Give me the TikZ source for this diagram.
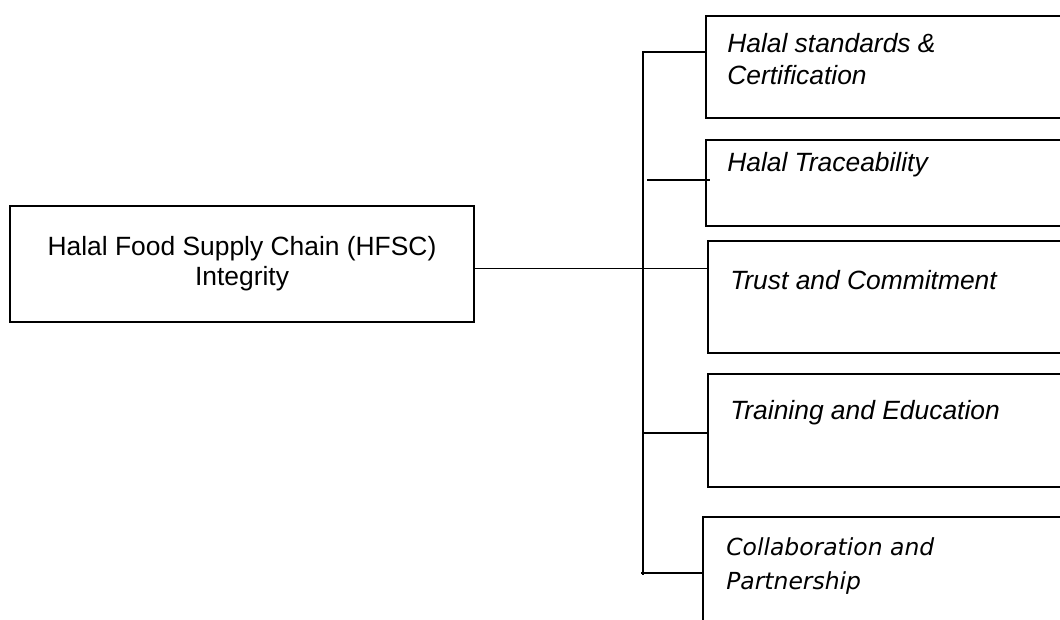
\documentclass[tikz,border=0pt]{standalone}
\usepackage{fontspec}
\setmainfont{Liberation Sans}
\newfontfamily\collabfont{DejaVu Sans}
\usetikzlibrary{positioning,calc}
\tikzset{
  box/.style={draw, line width=1pt, inner sep=0pt, outer sep=0pt, anchor=north west, minimum width=280pt},
  boxtext/.style={anchor=west, inner sep=0pt, align=left, font=\fontsize{19.8}{24}\selectfont\itshape},
  link/.style={line width=1pt},
}
\begin{document}
\begin{tikzpicture}[x=0.75pt,y=-0.75pt]
        \clip (0,0) rectangle (1060,619);
        % Nodo principale
        \node[draw, line width=1pt, minimum width=348pt, minimum height=87pt, inner sep=0pt, outer sep=0pt, align=center, font=\fontsize{19.8}{22.5}\selectfont] (hfsc) at (242,264) {Halal Food Supply Chain (HFSC)\\Integrity};
        % Riquadri a destra
        \node[box, minimum height=76.5pt] (cert) at (706,16) {};
        \node[box, minimum height=64.5pt] (trace) at (706,140) {};
        \node[box, minimum height=84pt] (trust) at (708,241) {};
        \node[box, minimum height=84.75pt] (train) at (708,374) {};
        \node[box, minimum height=97.5pt] (collab) at (703,517) {};
        \node[boxtext] (certtext) at (727,59) {Halal standards \&\\Certification};
        \node[boxtext] (tracetext) at (727,165) {Halal Traceability};
        \node[boxtext] (trusttext) at (730,280) {Trust and Commitment};
        \node[boxtext] (traintext) at (730,413) {Training and Education};
        \node[boxtext, font=\fontsize{17.6}{26}\selectfont\collabfont\itshape] (collabtext) at (726,566) {Collaboration and\\Partnership};
        % Collegamenti
        \coordinate (spinetop) at (643,52);
        \coordinate (spinebot) at (643,575);
        \draw[link] (cert.west |- spinetop) -- (spinetop) -- (spinebot);
        \coordinate (tracestub) at (647,180);
        \draw[link] (tracestub) -- ([xshift=3pt]tracestub -| trace.west);
        \draw[link] ([yshift=-3.5pt]hfsc.east) -- ([yshift=-3.5pt]hfsc.east -| trust.west);
        \coordinate (trainstub) at (643,433);
        \draw[link] (trainstub) -- (trainstub -| train.west);
        \coordinate (collabstub) at (641,573);
        \draw[link] (collabstub) -- (collabstub -| collab.west);
    \end{tikzpicture}
\end{document}
